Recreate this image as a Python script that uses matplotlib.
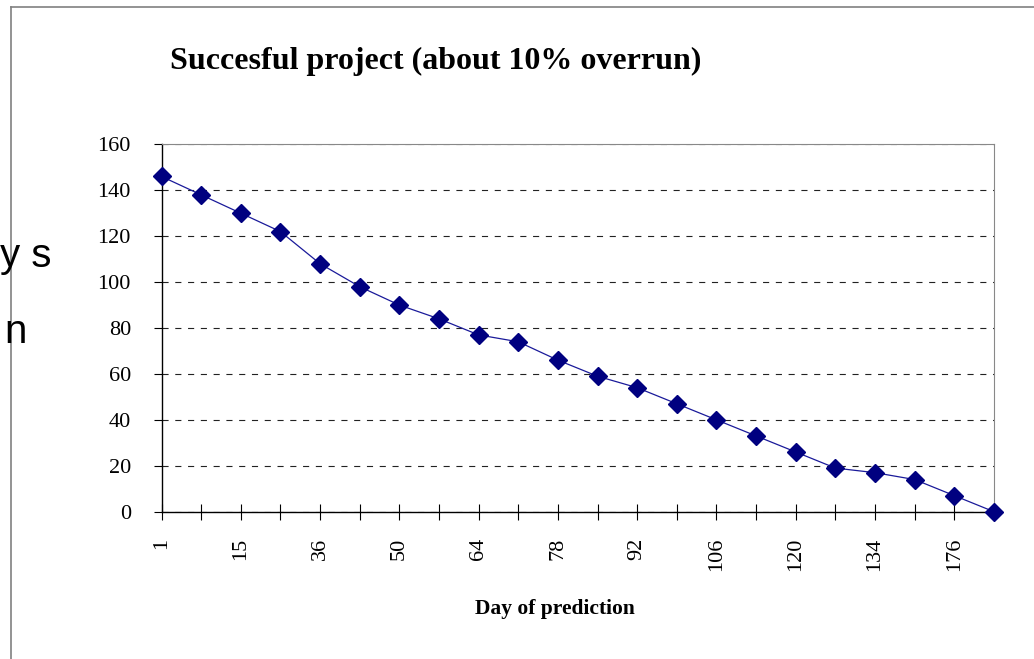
import matplotlib.pyplot as plt
import numpy as np

# day on which each estimate was made, and the estimated days remaining
days = [1, 8, 15, 22, 36, 43, 50, 57, 64, 71, 78, 85, 92, 99, 106, 113, 120, 127, 134, 155, 176, 183]
remaining = [146, 138, 130, 122, 108, 98, 90, 84, 77, 74, 66, 59, 54, 47, 40, 33, 26, 19, 17, 14, 7, 0]
yticks = [0, 20, 40, 60, 80, 100, 120, 140, 160]

serif = 'Liberation Serif'
navy = '#000080'

fig = plt.figure(figsize=(10.34, 6.59), dpi=100)
ax = fig.add_axes([0.1562, 0.2235, 0.9613 - 0.1562, 0.781 - 0.2235])

x = np.arange(len(days))
ax.plot(x, remaining, color='#1a1a9a', linewidth=0.9, marker='D', markersize=9.2,
        markerfacecolor=navy, markeredgecolor=navy, zorder=3, clip_on=False)

ax.set_xlim(0, len(days) - 1)
ax.set_ylim(0, 160)
ax.set_yticks(yticks)
ax.set_yticklabels([str(v) for v in yticks], fontfamily=serif, fontsize=16)
ax.set_xticks(x)
ax.set_xticklabels([str(d) if i % 2 == 0 else '' for i, d in enumerate(days)],
                   rotation=90, fontfamily=serif, fontsize=16)
ax.tick_params(axis='x', direction='inout', length=11, width=0.8, pad=13)
ax.tick_params(axis='y', direction='out', length=6, width=0.8, pad=16)

ax.yaxis.grid(True, linestyle=(0, (5.5, 6)), color='#222222', linewidth=0.8)
ax.set_axisbelow(True)
for side in ['top', 'right']:
    ax.spines[side].set_color('#888888')
    ax.spines[side].set_linewidth(0.8)
for side in ['left', 'bottom']:
    ax.spines[side].set_color('black')
    ax.spines[side].set_linewidth(1.0)

fig.text(436 / 1034, 1 - 61 / 659, 'Succesful project (about 10% overrun)',
         ha='center', va='center', fontfamily=serif, fontweight='bold', fontsize=23)
fig.text(555 / 1034, 1 - 609 / 659, 'Day of prediction',
         ha='center', va='center', fontfamily=serif, fontweight='bold', fontsize=15.5)

# y axis caption fragments at the left edge
fig.text(0, 1 - 267 / 659, 'y s', ha='left', va='baseline',
         fontfamily='Liberation Sans', fontsize=29)
fig.text(4 / 1034, 1 - 343 / 659, 'n', ha='left', va='baseline',
         fontfamily='Liberation Sans', fontsize=29)

# outer chart frame
fig.add_artist(plt.Line2D([10.5 / 1034, 10.5 / 1034], [0, 1 - 7 / 659],
                          transform=fig.transFigure, color='#808080', linewidth=1.2))
fig.add_artist(plt.Line2D([10.5 / 1034, 1], [1 - 7 / 659, 1 - 7 / 659],
                          transform=fig.transFigure, color='#808080', linewidth=1.2))

fig.savefig('out.png', dpi=100)
